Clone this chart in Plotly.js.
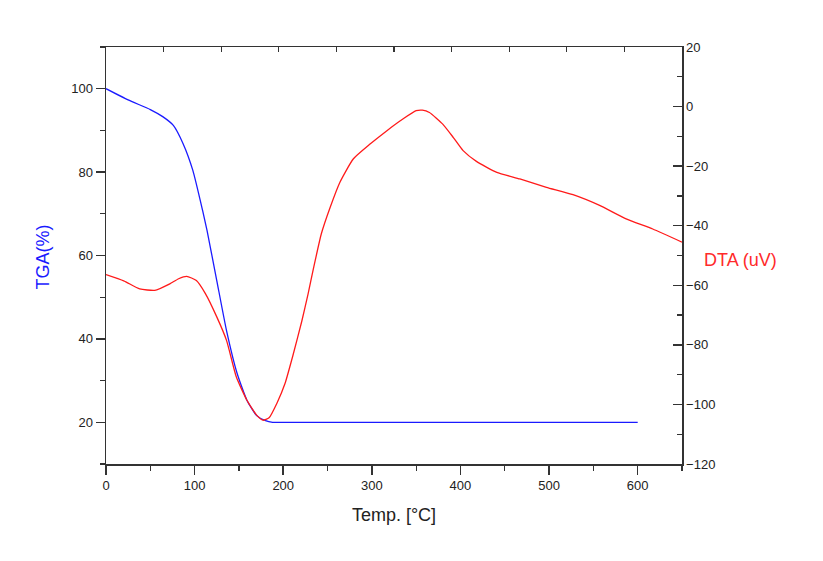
<!DOCTYPE html>
<html>
<head>
<meta charset="utf-8">
<script src="https://cdn.plot.ly/plotly-3.0.1.min.js"></script>
<style>html,body{margin:0;padding:0;background:#fff;}#chart{width:823px;height:561px;}</style>
</head>
<body>
<div id="chart"></div>
<script>
// TGA curve (left axis, %)
const tgaTemp = [0, 25, 50, 64, 76, 87, 98, 109, 114, 125, 136, 148, 159, 170, 180, 188, 200, 300, 400, 500, 600];
const tgaValue = [100, 97.3, 95.0, 93.3, 91.2, 86.8, 80.4, 70.8, 66.0, 54.0, 42.0, 31.7, 25.3, 21.6, 20.4, 20.0, 20.0, 20.0, 20.0, 20.0, 20.0];

// DTA curve (right axis, uV)
const dtaTemp = [0, 20, 38, 55, 72, 82, 91, 102, 112, 125, 136, 147, 159, 170, 177, 184, 193, 202, 211, 221, 228, 234, 243, 253, 264, 279, 298, 317, 335, 350, 357, 365, 380, 392, 403, 418, 441, 467, 497, 527, 557, 587, 617, 650];
const dtaValue = [-56.4, -58.5, -61.2, -61.7, -59.5, -57.8, -57.0, -58.4, -62.7, -70.6, -78.5, -90.7, -98.6, -103.6, -105.3, -104.5, -99.5, -93.0, -83.5, -72.0, -63.0, -54.5, -42.7, -33.8, -25.4, -17.6, -12.6, -8.1, -4.2, -1.4, -1.2, -2.0, -5.9, -10.4, -14.8, -18.4, -22.1, -24.3, -27.1, -29.6, -33.2, -37.7, -41.1, -45.5];

// Axis labels
const xTitle = "Temp. [°C]";
const tgaTitle = "TGA(%)";
const dtaTitle = "DTA (uV)";

const tickFont = {family: "Liberation Sans, Arial, sans-serif", size: 13, color: "#222"};
const axisColor = "#333";

const traces = [
  {x: tgaTemp, y: tgaValue, type: "scatter", mode: "lines", name: "TGA",
   line: {color: "#1a1aff", width: 1.3, shape: "spline", smoothing: 0.5}, xaxis: "x", yaxis: "y"},
  {x: dtaTemp, y: dtaValue, type: "scatter", mode: "lines", name: "DTA",
   line: {color: "#ff1a1a", width: 1.3, shape: "spline", smoothing: 0.5}, xaxis: "x2", yaxis: "y2"}
];

const layout = {
  width: 823, height: 561,
  margin: {l: 106, r: 141, t: 47, b: 97},
  paper_bgcolor: "#fff", plot_bgcolor: "#fff",
  showlegend: false,
  font: {family: "Liberation Sans, Arial, sans-serif"},
  xaxis: {
    range: [0, 650], tick0: 0, dtick: 100,
    showgrid: false, zeroline: false,
    showline: true, linecolor: axisColor, linewidth: 1.5,
    ticks: "outside", ticklen: 9, tickwidth: 1.5, tickcolor: axisColor,
    minor: {ticks: "outside", dtick: 50, ticklen: 5, tickwidth: 1.2, tickcolor: axisColor, showgrid: false},
    tickfont: tickFont,
    title: {text: xTitle, font: {family: "Liberation Sans, Arial, sans-serif", size: 18, color: "#222"}, standoff: 16}
  },
  xaxis2: {
    overlaying: "x", side: "top", anchor: "y2",
    range: [0, 650], tick0: 0, dtick: 65,
    showgrid: false, zeroline: false,
    showline: true, linecolor: axisColor, linewidth: 1.5,
    ticks: "inside", ticklen: 5, tickwidth: 1.2, tickcolor: axisColor,
    showticklabels: false
  },
  yaxis: {
    range: [10, 110], tick0: 0, dtick: 20,
    showgrid: false, zeroline: false,
    showline: true, linecolor: axisColor, linewidth: 1.5,
    ticks: "outside", ticklen: 9, tickwidth: 1.5, tickcolor: axisColor,
    minor: {ticks: "outside", dtick: 10, ticklen: 5, tickwidth: 1.2, tickcolor: axisColor, showgrid: false},
    tickfont: tickFont
  },
  yaxis2: {
    overlaying: "y", side: "right", anchor: "x2",
    range: [-120, 20], tick0: 0, dtick: 20,
    showgrid: false, zeroline: false,
    showline: true, linecolor: axisColor, linewidth: 1.5,
    ticks: "inside", ticklen: 9, tickwidth: 1.5, tickcolor: axisColor,
    minor: {ticks: "inside", dtick: 10, ticklen: 5, tickwidth: 1.2, tickcolor: axisColor, showgrid: false},
    tickfont: tickFont
  },
  annotations: [
    {text: tgaTitle, xref: "paper", yref: "paper", x: -0.109, y: 0.496,
     xanchor: "center", yanchor: "middle", textangle: -90, showarrow: false,
     font: {family: "Liberation Sans, Arial, sans-serif", size: 18, color: "#1a1aff"}},
    {text: dtaTitle, xref: "paper", yref: "paper", x: 1.1007, y: 0.489,
     xanchor: "center", yanchor: "middle", showarrow: false,
     font: {family: "Liberation Sans, Arial, sans-serif", size: 18, color: "#ff2a2a"}}
  ]
};

Plotly.newPlot("chart", traces, layout, {displayModeBar: false, staticPlot: true});
</script>
</body>
</html>
